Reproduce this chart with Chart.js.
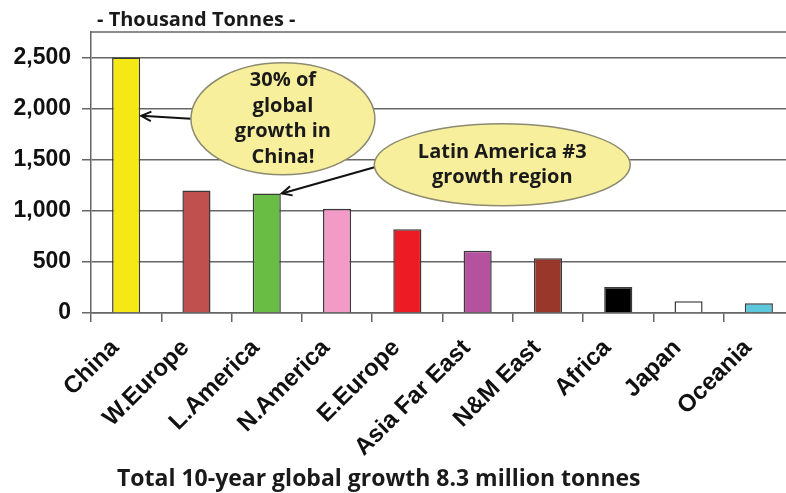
<!DOCTYPE html>
<html>
<head>
<meta charset="utf-8">
<script src="https://cdn.jsdelivr.net/npm/chart.js@4.4.1/dist/chart.umd.min.js"></script>
<style>
  html, body { margin: 0; padding: 0; background: #fff; overflow: hidden; }
  #wrap { position: relative; width: 794px; height: 493px; }
</style>
</head>
<body>
<div id="wrap"><canvas id="growthChart"></canvas></div>
<script>
const regions = ['China', 'W.Europe', 'L.America', 'N.America', 'E.Europe',
  'Asia Far East', 'N&M East', 'Africa', 'Japan', 'Oceania'];
const growth = [2500, 1200, 1170, 1020, 820, 610, 535, 255, 115, 95];
const barColors = ['#f5e814', '#c0504d', '#69bd45', '#f39bc6', '#ed1c24',
  '#b4529f', '#99382a', '#000000', '#ffffff', '#5cc8dd'];
const yTicks = [0, 500, 1000, 1500, 2000, 2500];
const yMax = 2750;

const unitTitle = '- Thousand Tonnes -';
const footNote = 'Total 10-year global growth 8.3 million tonnes';

// speech bubbles: where they sit (category index / value) and which bar they point at
const bubbleLines = [
  ['30% of', 'global', 'growth in', 'China!'],
  ['Latin America #3', 'growth region']
];
const bubbleAt = [[2.23, 1900], [5.35, 1450]];
const bubbleTarget = [[0, 1930], [2, 1170]];

const textFont = '"Open Sans", Lato, sans-serif';
const axisFont = '"Liberation Sans", Arial, sans-serif';

const calloutPlugin = {
  id: 'callouts',
  afterDatasetsDraw(chart) {
    const ctx = chart.ctx;
    const xs = chart.scales.x, ys = chart.scales.y;
    const meta = chart.getDatasetMeta(0);
    const area = chart.chartArea;

    // top edge of the plot box
    ctx.save();
    ctx.strokeStyle = '#666';
    ctx.lineWidth = 1.5;
    ctx.beginPath();
    ctx.moveTo(area.left, area.top);
    ctx.lineTo(area.right, area.top);
    ctx.stroke();

    const shapes = [
      { rx: 92, ry: 56, size: 20, lh: 25.5, ang: Math.PI },
      { rx: 128, ry: 41, size: 20, lh: 25, ang: Math.PI - 0.06 }
    ];
    bubbleLines.forEach((lines, i) => {
      const s = shapes[i];
      const cx = xs.getPixelForValue(bubbleAt[i][0]);
      const cy = ys.getPixelForValue(bubbleAt[i][1]);
      const bar = meta.data[bubbleTarget[i][0]];
      const tx = bar.x + bar.width / 2 + 1;
      const ty = ys.getPixelForValue(bubbleTarget[i][1]);
      const sx = cx + s.rx * Math.cos(s.ang);
      const sy = cy + s.ry * Math.sin(s.ang);

      // arrow
      ctx.strokeStyle = '#111';
      ctx.lineWidth = 2;
      ctx.beginPath();
      ctx.moveTo(sx, sy);
      ctx.lineTo(tx, ty);
      ctx.stroke();
      const a = Math.atan2(sy - ty, sx - tx);
      ctx.beginPath();
      ctx.moveTo(tx + 11 * Math.cos(a + 0.45), ty + 11 * Math.sin(a + 0.45));
      ctx.lineTo(tx, ty);
      ctx.lineTo(tx + 11 * Math.cos(a - 0.45), ty + 11 * Math.sin(a - 0.45));
      ctx.stroke();

      // bubble
      ctx.beginPath();
      ctx.ellipse(cx, cy, s.rx, s.ry, 0, 0, Math.PI * 2);
      ctx.fillStyle = '#f8ef9d';
      ctx.fill();
      ctx.strokeStyle = '#8c8a70';
      ctx.lineWidth = 1.5;
      ctx.stroke();

      ctx.fillStyle = '#1a1a1a';
      ctx.font = 'bold ' + s.size + 'px ' + textFont;
      ctx.textAlign = 'center';
      ctx.textBaseline = 'middle';
      const y0 = cy - (lines.length - 1) * s.lh / 2;
      lines.forEach((t, k) => ctx.fillText(t, cx, y0 + k * s.lh));
    });
    ctx.restore();
  },
  afterDraw(chart) {
    const ctx = chart.ctx;
    ctx.save();
    ctx.fillStyle = '#1a1a1a';
    ctx.textBaseline = 'alphabetic';
    ctx.textAlign = 'left';
    ctx.font = 'bold 20px ' + textFont;
    ctx.fillText(unitTitle, 97, 26);
    ctx.font = 'bold 23px ' + textFont;
    ctx.fillText(footNote, 117, 486);
    ctx.restore();
  }
};

new Chart(document.getElementById('growthChart'), {
  type: 'bar',
  data: {
    labels: regions,
    datasets: [{
      data: growth,
      backgroundColor: barColors,
      borderColor: '#3a3a3a',
      borderWidth: 1.5,
      barPercentage: 0.4,
      categoryPercentage: 1
    }]
  },
  options: {
    responsive: true,
    maintainAspectRatio: false,
    animation: false,
    layout: { padding: { top: 32, left: 0, right: 0, bottom: 0 } },
    plugins: {
      legend: { display: false },
      tooltip: { enabled: false }
    },
    scales: {
      x: {
        afterFit(scale) { scale.height = 180; },
        grid: {
          offset: true,
          drawOnChartArea: false,
          drawTicks: true,
          tickLength: 9,
          color: '#666',
          lineWidth: 1.5
        },
        border: { display: true, color: '#666', width: 1.5 },
        ticks: {
          minRotation: 45,
          maxRotation: 45,
          autoSkip: false,
          padding: 12,
          labelOffset: -11,
          color: '#111',
          font: { family: axisFont, size: 24, weight: 'bold' }
        }
      },
      y: {
        min: 0,
        max: yMax,
        afterFit(scale) { scale.width = 91; },
        afterBuildTicks(scale) {
          scale.ticks = yTicks.map(v => ({ value: v }));
        },
        grid: {
          color: '#666',
          lineWidth: 1.5,
          tickLength: 9,
          drawTicks: true
        },
        border: { display: true, color: '#666', width: 1.5 },
        ticks: {
          padding: 11,
          color: '#111',
          font: { family: axisFont, size: 23, weight: 'bold' },
          callback: v => v.toLocaleString('en-US')
        }
      }
    }
  },
  plugins: [calloutPlugin]
});
</script>
</body>
</html>
